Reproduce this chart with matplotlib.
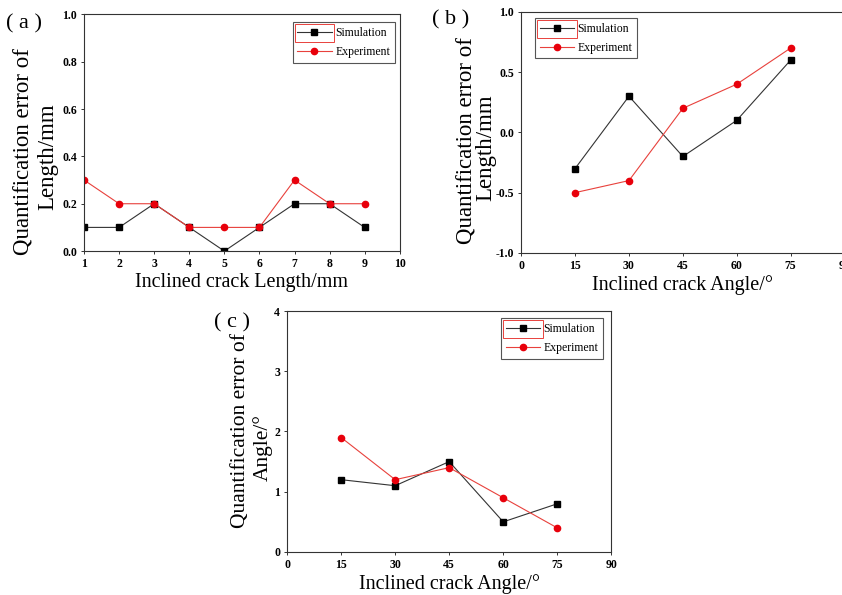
import matplotlib
matplotlib.use("Agg")
import matplotlib.pyplot as plt
from matplotlib.patches import Rectangle

# panel (a): error of length vs crack length
len_x = [1, 2, 3, 4, 5, 6, 7, 8, 9]
len_sim = [0.1, 0.1, 0.2, 0.1, 0.0, 0.1, 0.2, 0.2, 0.1]
len_exp = [0.3, 0.2, 0.2, 0.1, 0.1, 0.1, 0.3, 0.2, 0.2]

# panel (b): error of length vs crack angle
ang_x = [15, 30, 45, 60, 75]
angL_sim = [-0.3, 0.3, -0.2, 0.1, 0.6]
angL_exp = [-0.5, -0.4, 0.2, 0.4, 0.7]

# panel (c): error of angle vs crack angle
angA_sim = [1.2, 1.1, 1.5, 0.5, 0.8]
angA_exp = [1.9, 1.2, 1.4, 0.9, 0.4]

xticks_a = [1, 2, 3, 4, 5, 6, 7, 8, 9, 10]
yticks_a = [0.0, 0.2, 0.4, 0.6, 0.8, 1.0]
xticks_bc = [0, 15, 30, 45, 60, 75, 90]
yticks_b = [-1.0, -0.5, 0.0, 0.5, 1.0]
yticks_c = [0, 1, 2, 3, 4]

plt.rcParams['font.family'] = ['Liberation Serif', 'Noto Sans CJK SC']

W, H = 842, 595
fig = plt.figure(figsize=(W / 100, H / 100), dpi=100)


def px(x, y):
    # pixel position (from top-left) -> figure fraction
    return x / W, 1 - y / H


def panel(rect, x, sim, exp, xticks, yticks, xfmt, yfmt, xlabel,
          ylab1, ylab2, yfs, leg_loc, leg_anchor):
    ax = fig.add_axes(rect)
    ax.plot(x, sim, color='#333333', lw=0.8, marker='s', ms=4.5,
            mfc='black', mec='black', label='Simulation')
    ax.plot(x, exp, color='#e8413c', lw=0.8, marker='o', ms=4.5,
            mfc='#e8000b', mec='#e8000b', label='Experiment')
    ax.set_xlim(xticks[0], xticks[-1])
    ax.set_ylim(yticks[0], yticks[-1])
    ax.set_xticks(xticks)
    ax.set_yticks(yticks)
    ax.set_xticklabels([xfmt.format(v) for v in xticks])
    ax.set_yticklabels([yfmt.format(v) for v in yticks])
    ax.tick_params(length=2, width=0.7, pad=3, labelsize=8.5,
                   color='#333333')
    for lab in ax.get_xticklabels() + ax.get_yticklabels():
        lab.set_fontweight('bold')
    for s in ax.spines.values():
        s.set_linewidth(0.8)
        s.set_color('#333333')
    ax.set_xlabel(xlabel, fontsize=14.5, labelpad=2)
    # two-line y label drawn as two rotated texts
    for txt, (lx, ly) in (ylab1, ylab2):
        fig.text(*px(lx, ly), txt, rotation=90, fontsize=yfs,
                 ha='center', va='center')
    leg = ax.legend(loc=leg_loc, bbox_to_anchor=leg_anchor, fontsize=8.5,
                    fancybox=False, framealpha=1, edgecolor='#555555',
                    handlelength=2.9, borderpad=0.4, labelspacing=0.6,
                    handletextpad=0.3, borderaxespad=0)
    leg.get_frame().set_linewidth(0.8)
    return ax, leg


ax_a, leg_a = panel([0.0998, 0.578, 0.375, 0.398], len_x, len_sim, len_exp,
                    xticks_a, yticks_a, '{:d}', '{:.1f}',
                    'Inclined crack Length/mm',
                    ('Quantification error of', (24, 152)),
                    ('Length/mm', (48, 157)), 16.5,
                    'upper right', (0.984, 0.966))

ax_b, leg_b = panel([0.619, 0.575, 0.384, 0.405], ang_x, angL_sim, angL_exp,
                    xticks_bc, yticks_b, '{:d}', '{:.1f}',
                    'Inclined crack Angle/°',
                    ('Quantification error of', (467, 141)),
                    ('Length/mm', (486, 148)), 16.5,
                    'upper left', (0.043, 0.975))

ax_c, leg_c = panel([0.341, 0.0723, 0.385, 0.405], ang_x, angA_sim, angA_exp,
                    xticks_bc, yticks_c, '{:d}', '{:d}',
                    'Inclined crack Angle/°',
                    ('Quantification error of', (241, 431)),
                    ('Angle/°', (263, 448)), 15.5,
                    'upper right', (0.975, 0.971))

fig.text(*px(6, 24), '( a )', fontsize=16, va='center')
fig.text(*px(432, 20), '( b )', fontsize=16, va='center')
fig.text(*px(214, 323), '( c )', fontsize=16, va='center')

# red box drawn round the first legend handle (as in the source figure)
fig.canvas.draw()
inv = fig.transFigure.inverted()
for leg in (leg_a, leg_b, leg_c):
    fb = leg.get_frame().get_window_extent()
    tb = leg.get_texts()[0].get_window_extent()
    x0, y0 = inv.transform((fb.x0 + 2, tb.y0 - 3))
    x1, y1 = inv.transform((tb.x0 - 1, tb.y1 + 3))
    fig.add_artist(Rectangle((x0, y0), x1 - x0, y1 - y0, fill=False,
                             ec='#e8413c', lw=0.7,
                             transform=fig.transFigure))

fig.savefig('out.png', dpi=100)
